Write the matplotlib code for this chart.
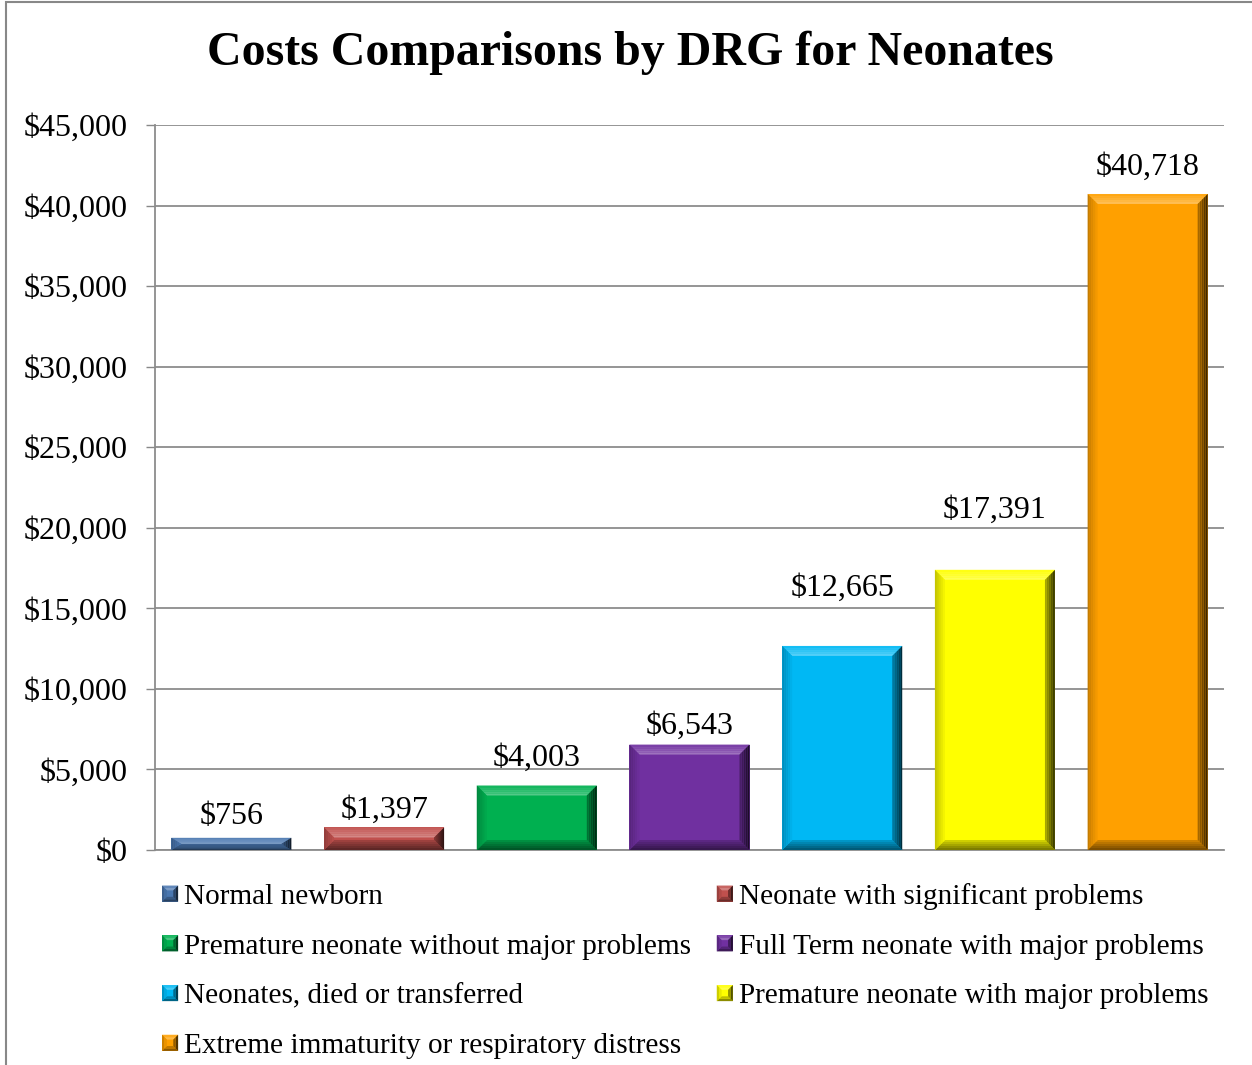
import matplotlib
matplotlib.use("Agg")
import matplotlib.pyplot as plt
from matplotlib.patches import Polygon, Rectangle
from matplotlib.legend_handler import HandlerBase
from matplotlib.ticker import FuncFormatter, MultipleLocator
import matplotlib.colors as mcolors
import numpy as np

categories = [
    "Normal newborn",
    "Neonate with significant problems",
    "Premature neonate without major problems",
    "Full Term neonate with major problems",
    "Neonates, died or transferred",
    "Premature neonate with major problems",
    "Extreme immaturity or respiratory distress",
]
values = [756, 1397, 4003, 6543, 12665, 17391, 40718]
colors = ["#4A77B0", "#C0504D", "#00B050", "#7030A0", "#00B8F4", "#FFFF00", "#FFA000"]
title = "Costs Comparisons by DRG for Neonates"
# label gap above each bar (pixels), as placed in the original
label_gap_px = [14, 10, 20, 11, 50, 52, 19]

plt.rcParams["font.family"] = ["Liberation Serif", "DejaVu Serif"]

W, H, DPI = 12.52, 10.65, 100
fig = plt.figure(figsize=(W, H), dpi=DPI)
ax = fig.add_axes([155 / 1252, 1 - 850 / 1065, (1224 - 155) / 1252, (850 - 125) / 1065])

n = len(values)
xs = np.arange(n)
bw = 0.786
ymax = 45000
ax.set_xlim(-0.5, n - 0.5)
ax.set_ylim(0, ymax)

ax_w_px = (1224 - 155)
ax_h_px = (850 - 125)
px_x = n / ax_w_px
px_y = ymax / ax_h_px


def shade(c, f):
    r, g, b = mcolors.to_rgb(c)
    if f >= 0:
        return (r + (1 - r) * f, g + (1 - g) * f, b + (1 - b) * f)
    f = -f
    return (r * (1 - f), g * (1 - f), b * (1 - f))


SIDE_SHADES = {
    "top": (0.05, 0.35),
    "left": (-0.25, -0.02),
    "right": (-0.8, -0.3),
    "bottom": (-0.55, -0.15),
}


def bevel_polys(x0, y0, x1, y1, bx, by, steps):
    """Yield (side, t, polygon) strips from outer (t=0) to inner (t=1)."""
    for k in range(steps):
        a, b = k / steps, (k + 1) / steps
        ax0, ay0, ax1, ay1 = x0 + bx * a, y0 + by * a, x1 - bx * a, y1 - by * a
        bx0, by0, bx1, by1 = x0 + bx * b, y0 + by * b, x1 - bx * b, y1 - by * b
        t = (k + 0.5) / steps
        yield "top", t, [(ax0, ay1), (ax1, ay1), (bx1, by1), (bx0, by1)]
        yield "bottom", t, [(ax0, ay0), (ax1, ay0), (bx1, by0), (bx0, by0)]
        yield "left", t, [(ax0, ay0), (ax0, ay1), (bx0, by1), (bx0, by0)]
        yield "right", t, [(ax1, ay0), (ax1, ay1), (bx1, by1), (bx1, by0)]


def side_color(c, side, t):
    lo, hi = SIDE_SHADES[side]
    return shade(c, lo + (hi - lo) * t)


handles = []
for i, (x, v, c) in enumerate(zip(xs, values, colors)):
    b = ax.bar(x, v, width=bw, color=c, edgecolor="none", zorder=3, label=categories[i])
    handles.append(b[0])
    by = min(10 * px_y, v / 2)
    bx = min(10 * px_x, bw / 2)
    for side, t, poly in bevel_polys(x - bw / 2, 0, x + bw / 2, v, bx, by, 5):
        ax.add_patch(Polygon(poly, closed=True, facecolor=side_color(c, side, t),
                             edgecolor="none", lw=0, zorder=4, antialiased=True))
    ax.annotate(f"${v:,.0f}", (x, v), xytext=(0, label_gap_px[i]), textcoords="offset pixels",
                ha="center", va="baseline", fontsize=23, color="black")

ax.yaxis.set_major_locator(MultipleLocator(5000))
ax.yaxis.set_major_formatter(FuncFormatter(lambda y, p: f"${y:,.0f}"))
ax.tick_params(axis="y", labelsize=23, length=6.5, width=1, color="#888888", pad=13)
ax.tick_params(axis="x", bottom=False, labelbottom=False)
ax.grid(axis="y", color="#8c8c8c", lw=1.3, zorder=0)
ax.set_axisbelow(True)
for s in ["top", "right"]:
    ax.spines[s].set_visible(False)
for s in ["left", "bottom"]:
    ax.spines[s].set_color("#8c8c8c")
    ax.spines[s].set_linewidth(1.3)

fig.text(630 / 1252, 1 - 53 / 1065, title, ha="center", va="center",
         fontsize=34.5, fontweight="bold")


class BevelHandler(HandlerBase):
    def create_artists(self, legend, orig_handle, xdescent, ydescent, width, height,
                       fontsize, trans):
        c = orig_handle.get_facecolor()
        s = min(width, height)
        x0 = -xdescent + (width - s) / 2
        y0 = -ydescent + (height - s) / 2
        arts = [Rectangle((x0, y0), s, s, facecolor=c, edgecolor="none", transform=trans)]
        for side, t, poly in bevel_polys(x0, y0, x0 + s, y0 + s, s * 0.3, s * 0.3, 2):
            arts.append(Polygon(poly, closed=True, facecolor=side_color(c, side, t),
                                edgecolor="none", transform=trans))
        return arts


order = [0, 2, 4, 6, 1, 3, 5]
leg = fig.legend([handles[i] for i in order], [categories[i] for i in order],
                 ncol=2, loc="upper left", bbox_to_anchor=(162 / 1252, 1 - 883 / 1065),
                 frameon=False, fontsize=21.1, handlelength=0.55, handleheight=0.55,
                 handletextpad=0.2, columnspacing=0.88, labelspacing=0.81,
                 borderaxespad=0, borderpad=0,
                 handler_map={type(handles[0]): BevelHandler()})

fig.patches.append(Rectangle((6 / 1252, -0.1), 1.2, 1 - 2 / 1065 + 0.1,
                             transform=fig.transFigure, fill=False,
                             edgecolor="#888888", lw=1.5))

fig.savefig("out.png", dpi=DPI)
